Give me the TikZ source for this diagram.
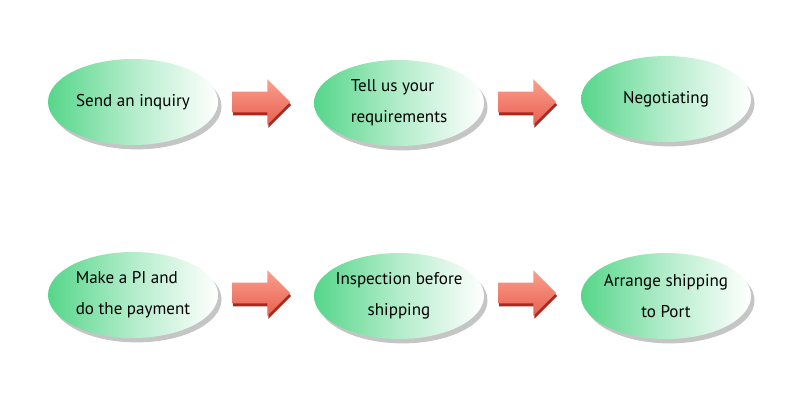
\documentclass[tikz,border=0pt]{standalone}
\usepackage{fontspec}
\setmainfont{PT Sans}
\usepackage{tikz}
\usepackage{xcolor}
\usetikzlibrary{shapes.geometric,shapes.arrows,shadows}
\definecolor{ovalgreen}{RGB}{86,214,138}
\definecolor{arrowlight}{RGB}{250,160,140}
\definecolor{arrowdark}{RGB}{232,96,82}
\definecolor{arrowside}{RGB}{170,40,30}

\begin{document}
\begin{tikzpicture}[x=0.02cm,y=-0.02cm]
\tikzstyle{every node}+=[inner sep=0pt]
\tikzstyle{step oval}=[ellipse, inner xsep=-12pt, inner ysep=-4pt,
  minimum width=3.4cm, minimum height=1.72cm,
  left color=ovalgreen, right color=white, middle color=ovalgreen!45!white,
  drop shadow={shadow xshift=2pt, shadow yshift=-2.5pt, fill=black!50, opacity=0.45},
  font=\fontsize{9.7}{17.5}\selectfont, text=black]
\tikzstyle{block arrow}=[single arrow, inner xsep=0pt, inner ysep=0.2cm,
  minimum height=1.16cm, single arrow head extend=0.25cm,
  single arrow head indent=0pt, top color=arrowlight, bottom color=arrowdark]
\tikzstyle{arrow side}=[single arrow, inner xsep=0pt, inner ysep=0.2cm,
  minimum height=1.16cm, single arrow head extend=0.25cm,
  single arrow head indent=0pt, fill=arrowside]
\useasboundingbox[fill=white] (0,0) rectangle (800,400);
% top row
\node [step oval] (inquiry) at (133,102) {Send an inquiry};
\node [step oval, align=left] (require) at (399,103) {Tell us your\\requirements};
\node [step oval] (negotiate) at (666,99) {Negotiating};
% bottom row
\node [step oval, align=left] (payment) at (133,295) {Make a PI and\\do the payment};
\node [step oval, align=center] (inspect) at (399,296) {Inspection before\\shipping};
\node [step oval, align=center] (arrange) at (666,296) {Arrange shipping\\to Port};
% block arrows
\node [arrow side] (sideA) at (257,105) {};
\node [block arrow] (arrowA) at (256,102) {};
\node [arrow side] (sideB) at (523,105) {};
\node [block arrow] (arrowB) at (522,102) {};
\node [arrow side] (sideC) at (257,296) {};
\node [block arrow] (arrowC) at (256,293) {};
\node [arrow side] (sideD) at (523,296) {};
\node [block arrow] (arrowD) at (522,293) {};
\end{tikzpicture}
\end{document}
